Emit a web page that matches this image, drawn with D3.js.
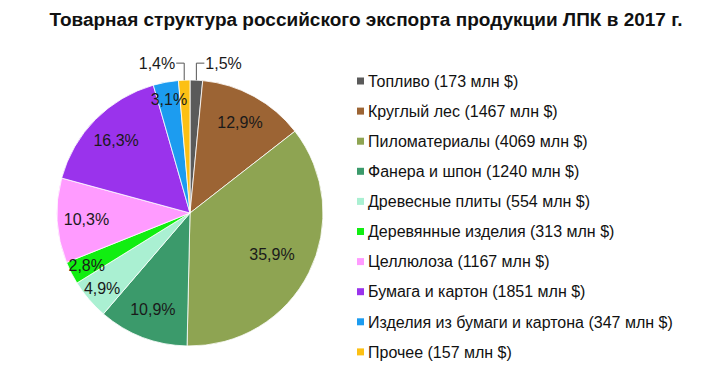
<!DOCTYPE html>
<html><head><meta charset="utf-8">
<script src="https://cdn.jsdelivr.net/npm/d3@7"></script>
<style>
html,body{margin:0;padding:0;background:#fff;}
svg{display:block;font-family:"Liberation Sans",Arial,sans-serif;}
</style></head>
<body>
<svg id="c" width="728" height="378"></svg>
<script>
const title = "Товарная структура российского экспорта продукции ЛПК в 2017 г.";
const categories = ["Топливо","Круглый лес","Пиломатериалы","Фанера и шпон","Древесные плиты","Деревянные изделия","Целлюлоза","Бумага и картон","Изделия из бумаги и картона","Прочее"];
const values = [173,1467,4069,1240,554,313,1167,1851,347,157];
const colors = ["#5a5a5a","#9c6434","#8ea452","#3b9a6b","#aaf0d2","#11ee11","#ff9bff","#9a33ec","#1c9cf0","#fcc014"];

const svg = d3.select("#c");
const cx = 190, cy = 213, R = 133;
const total = d3.sum(values);
const fmt = v => (v/total*100).toFixed(1).replace(".", ",") + "%";

svg.append("text").attr("x", 366).attr("y", 26).attr("text-anchor","middle")
  .attr("font-size", 18).attr("font-weight","bold").attr("fill","#111")
  .attr("textLength", 633).attr("lengthAdjust","spacingAndGlyphs")
  .text(title);

const data = categories.map((c,i)=>({name:c, value:values[i], color:colors[i], i}));
const pie = d3.pie().value(d=>d.value).sort(null);
const arcs = pie(data);
const arc = d3.arc().innerRadius(0).outerRadius(R);
const g = svg.append("g").attr("transform",`translate(${cx},${cy})`);
g.selectAll("path").data(arcs).join("path")
  .attr("d", arc).attr("fill", d=>d.data.color)
  .attr("stroke","#fff").attr("stroke-width",0.8);

arcs.forEach(a=>{
  const frac = a.data.value/total;
  const label = fmt(a.data.value);
  if (frac < 0.02) {
    const mid = (a.startAngle+a.endAngle)/2;
    const px = R*Math.sin(mid), py = -R*Math.cos(mid);
    const side = mid < Math.PI ? 1 : -1;
    const ly = py - 17;
    const hx = px + side*8;
    g.append("polyline")
      .attr("points", `${px},${py} ${px},${ly} ${hx},${ly}`)
      .attr("fill","none").attr("stroke","#555").attr("stroke-width",1);
    g.append("text").attr("x", hx + side*1).attr("y", ly).attr("dy","0.35em")
      .attr("text-anchor", side>0 ? "start":"end")
      .attr("font-size",16).attr("fill","#1a1a1a").text(label);
  } else {
    const k = frac > 0.3 ? 0.69 : (frac < 0.06 ? 0.87 : 0.78);
    const la = d3.arc().innerRadius(R*k).outerRadius(R*k);
    const [x,y] = la.centroid(a);
    g.append("text").attr("x", x).attr("y", y).attr("dy","0.35em")
      .attr("text-anchor","middle").attr("font-size",16).attr("fill","#1a1a1a").text(label);
  }
});

const lx = 357, ly0 = 81, step = 30.1;
const lg = svg.append("g");
data.forEach((d,i)=>{
  const y = ly0 + i*step;
  lg.append("rect").attr("x", lx).attr("y", y-3.5).attr("width",7).attr("height",7).attr("fill", d.color);
  lg.append("text").attr("x", lx+11).attr("y", y).attr("dy","0.36em")
    .attr("font-size",16).attr("fill","#111")
    .text(`${d.name} (${d.value} млн $)`);
});
</script>
</body></html>
